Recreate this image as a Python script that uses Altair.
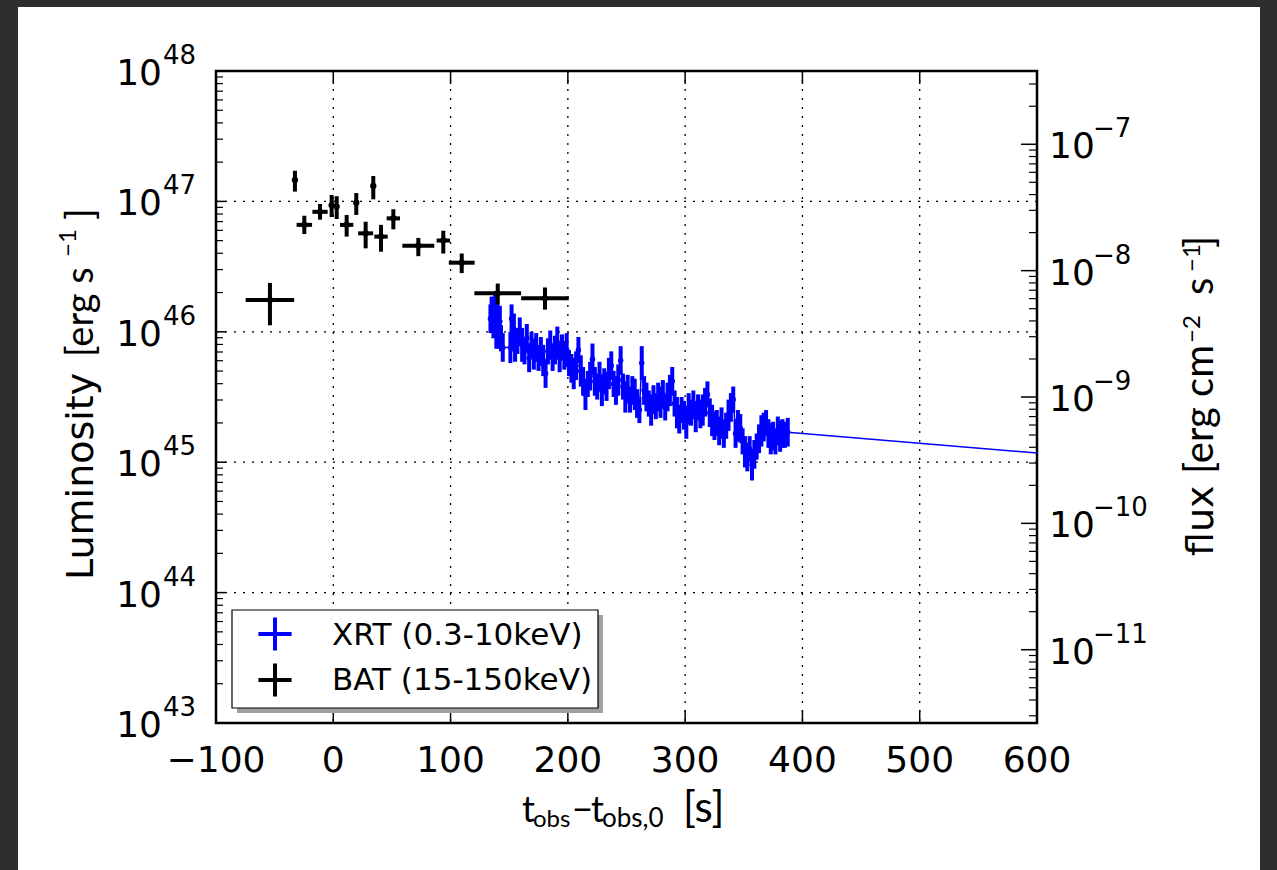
import altair as alt
import pandas as pd

# ---------------- data ----------------
# BAT (15-150 keV): time, half-width of time bin, log10 luminosity (centre, low, high)
bat_t = [-54.0, -32.7, -24.7, -11.3, -1.4, 2.9, 11.4, 19.6, 27.6, 34.1, 40.7, 51.2, 72.5, 93.8, 109.5, 140.2, 180.5]
bat_terr = [20.7, 0.0, 6.6, 6.5, 1.5, 1.5, 5.7, 0.0, 6.4, 0.0, 5.7, 5.7, 13.6, 5.7, 11.0, 19.9, 20.3]
bat_logL = [46.244, 47.164, 46.82, 46.92, 46.97, 46.96, 46.82, 46.99, 46.755, 47.118, 46.73, 46.87, 46.66, 46.70, 46.53, 46.295, 46.257]
bat_logL_lo = [46.05, 47.075, 46.75, 46.86, 46.88, 46.865, 46.73, 46.896, 46.64, 47.016, 46.614, 46.786, 46.58, 46.60, 46.45, 46.21, 46.17]
bat_logL_hi = [46.375, 47.235, 46.89, 46.98, 47.05, 47.04, 46.896, 47.064, 46.844, 47.195, 46.82, 46.94, 46.72, 46.775, 46.60, 46.37, 46.34]

# XRT (0.3-10 keV)
xrt_t = [134, 135, 136.5, 138, 139, 140, 141, 142, 143, 144.5,
         151, 152, 153, 154, 155, 157, 159, 161, 163, 165,
         167, 169, 171, 173, 175, 177, 179, 181, 183, 185,
         187, 189, 191, 193, 195, 197, 199, 201, 203, 205,
         207, 209, 211, 213, 215, 217, 219, 221, 223, 225,
         227, 229, 231, 233, 235, 237, 239, 241, 243, 245,
         247, 249, 251, 253, 255, 257, 259, 261, 263, 265,
         267, 269, 271, 273, 275, 277, 279, 281, 283, 285,
         287, 289, 291, 293, 295, 297, 299, 301, 303, 305,
         307, 309, 311, 313, 315, 317, 319, 321, 323, 325,
         327, 329, 331, 333, 335, 337, 339, 341, 343, 345,
         347, 349, 351, 353, 355, 357, 359, 361, 363, 365,
         367, 369, 371, 373, 375, 377, 379, 381, 383, 385,
         387.5]
xrt_logL = [46.10, 46.15, 46.05, 46.20, 46.00, 46.12, 45.98, 46.08, 45.95, 45.88,
            45.88, 46.10, 45.95, 46.02, 45.88, 45.93, 46.00, 45.90, 45.85, 45.95,
            45.80, 45.90, 45.83, 45.88, 45.80, 45.85, 45.78, 45.68, 45.85, 45.90,
            45.80, 45.86, 45.92, 45.80, 45.88, 45.82, 45.86, 45.76, 45.72, 45.68,
            45.74, 45.86, 45.70, 45.62, 45.52, 45.60, 45.66, 45.79, 45.62, 45.58,
            45.66, 45.55, 45.62, 45.58, 45.68, 45.74, 45.60, 45.55, 45.63, 45.78,
            45.58, 45.50, 45.56, 45.48, 45.55, 45.52, 45.45, 45.40, 45.76, 45.55,
            45.50, 45.45, 45.40, 45.48, 45.43, 45.50, 45.46, 45.52, 45.42, 45.50,
            45.55, 45.62, 45.45, 45.38, 45.33, 45.40, 45.36, 45.30, 45.42, 45.38,
            45.44, 45.35, 45.42, 45.37, 45.40, 45.46, 45.52, 45.38, 45.32, 45.28,
            45.30, 45.24, 45.30, 45.22, 45.28, 45.36, 45.42, 45.48, 45.22, 45.28,
            45.26, 45.16, 45.08, 45.04, 45.10, 44.98, 45.06, 45.12, 45.18, 45.24,
            45.27, 45.30, 45.22, 45.18, 45.20, 45.16, 45.24, 45.20, 45.22, 45.21,
            45.23]
xrt_err = [0.11, 0.12, 0.10, 0.11, 0.13, 0.10, 0.11, 0.12, 0.10, 0.11,
           0.12, 0.11, 0.10, 0.12, 0.11, 0.10, 0.11, 0.13, 0.10, 0.11,
           0.11, 0.10, 0.12, 0.11, 0.10, 0.11, 0.12, 0.11, 0.10, 0.11,
           0.10, 0.11, 0.12, 0.11, 0.10, 0.11, 0.13, 0.10, 0.11, 0.12,
           0.11, 0.10, 0.12, 0.11, 0.12, 0.10, 0.11, 0.12, 0.11, 0.10,
           0.11, 0.12, 0.10, 0.11, 0.12, 0.11, 0.10, 0.11, 0.12, 0.11,
           0.10, 0.12, 0.11, 0.10, 0.11, 0.12, 0.11, 0.10, 0.13, 0.11,
           0.11, 0.10, 0.12, 0.11, 0.10, 0.11, 0.12, 0.11, 0.10, 0.11,
           0.12, 0.11, 0.10, 0.12, 0.11, 0.10, 0.11, 0.12, 0.11, 0.10,
           0.11, 0.12, 0.10, 0.11, 0.12, 0.11, 0.10, 0.11, 0.12, 0.11,
           0.10, 0.11, 0.12, 0.11, 0.10, 0.12, 0.11, 0.10, 0.11, 0.12,
           0.11, 0.10, 0.12, 0.11, 0.10, 0.12, 0.11, 0.10, 0.11, 0.12,
           0.11, 0.10, 0.11, 0.12, 0.11, 0.10, 0.11, 0.12, 0.11, 0.10,
           0.11]
xrt_terr = 1.5  # half-width of the XRT time bins (s)
# extension of the XRT light curve to the right edge
xrt_ext_t = [387.5, 600]
xrt_ext_logL = [45.23, 45.07]

# axis ticks / labels
x_ticks = [-100, 0, 100, 200, 300, 400, 500, 600]
x_tick_labels = ["\u2212100", "0", "100", "200", "300", "400", "500", "600"]
x_grid = [0, 100, 200, 300, 400, 500]
left_exps = [43, 44, 45, 46, 47, 48]
left_exp_labels = ["43", "44", "45", "46", "47", "48"]
y_grid_exps = [44, 45, 46, 47]
right_exps = [-11, -10, -9, -8, -7]
right_exp_labels = ["\u221211", "\u221210", "\u22129", "\u22128", "\u22127"]
FLUX_LOG_DOMAIN = [-11.58, -6.42]  # log10 flux limits of the right axis

legend_labels = ["XRT (0.3-10keV)", "BAT (15-150keV)"]
legend_colors = ["#0000ff", "#000000"]

# ---------------- tables ----------------
bat = pd.DataFrame({
    "t": bat_t,
    "t_lo": [a - b for a, b in zip(bat_t, bat_terr)],
    "t_hi": [a + b for a, b in zip(bat_t, bat_terr)],
    "L": [10 ** v for v in bat_logL],
    "L_lo": [10 ** v for v in bat_logL_lo],
    "L_hi": [10 ** v for v in bat_logL_hi],
})
xrt = pd.DataFrame({
    "t": xrt_t,
    "t_lo": [v - xrt_terr for v in xrt_t],
    "t_hi": [v + xrt_terr for v in xrt_t],
    "L": [10 ** v for v in xrt_logL],
    "L_lo": [10 ** (v - e) for v, e in zip(xrt_logL, xrt_err)],
    "L_hi": [10 ** (v + e) for v, e in zip(xrt_logL, xrt_err)],
})
xrt_ext = pd.DataFrame({"t": xrt_ext_t, "L": [10 ** v for v in xrt_ext_logL]})

left_major = pd.DataFrame({"L": [10.0 ** e for e in left_exps], "lab": left_exp_labels})
left_minor = pd.DataFrame({"L": [m * 10.0 ** e for e in left_exps[:-1] for m in range(2, 10)]})
ygrid = pd.DataFrame({"L": [10.0 ** e for e in y_grid_exps]})
right_major = pd.DataFrame({"F": [10.0 ** e for e in right_exps], "lab": right_exp_labels})
fmin, fmax = 10 ** FLUX_LOG_DOMAIN[0], 10 ** FLUX_LOG_DOMAIN[1]
rm = [m * 10.0 ** e for e in [-12] + right_exps for m in range(2, 10)]
right_minor = pd.DataFrame({"F": [v for v in rm if fmin < v < fmax]})
xt = pd.DataFrame({"t": x_ticks, "lab": x_tick_labels})
xg = pd.DataFrame({"t": x_grid})

W, H = 821, 652
xsc = alt.Scale(domain=[-100, 600], nice=False, zero=False)
ysc = alt.Scale(type="log", domain=[1e43, 1e48], nice=False)
fsc = alt.Scale(type="log", domain=[fmin, fmax], nice=False)
ONE = alt.Data(values=[{}])
BLUE = "#0000ff"
DARK = "#2e2e2f"
TITLE_FONT = "Lato"


def X(f):
    return alt.X(f, type="quantitative", scale=xsc, axis=None)


def Y(f):
    return alt.Y(f, type="quantitative", scale=ysc, axis=None)


def YF(f):
    return alt.Y(f, type="quantitative", scale=fsc, axis=None)


def txt(s, x, y, size, font, angle=0, align="left", color="black"):
    return alt.Chart(ONE).mark_text(
        text=s, fontSize=size, font=font, angle=angle, align=align,
        baseline="alphabetic", color=color
    ).encode(x=alt.value(x), y=alt.value(y))


def box(x1, x2, y1, y2, fill, stroke=None, sw=0):
    kw = dict(fill=fill, strokeWidth=sw)
    if stroke:
        kw["stroke"] = stroke
    return alt.Chart(ONE).mark_rect(**kw).encode(
        x=alt.value(x1), x2=alt.value(x2), y=alt.value(y1), y2=alt.value(y2))


layers = []
# dark page border around the white card
layers += [
    box(-216, -198, -71, 799, DARK),
    box(-216, 1061, -71, -64, DARK),
    box(1044, 1061, -71, 799, DARK),
]

# dotted grid
layers += [
    alt.Chart(xg).mark_rule(color="black", strokeWidth=1.3, strokeDash=[2, 7]).encode(
        x=X("t"), y=alt.value(0), y2=alt.value(H)),
    alt.Chart(ygrid).mark_rule(color="black", strokeWidth=1.3, strokeDash=[2, 7]).encode(
        y=Y("L"), x=alt.value(0), x2=alt.value(W)),
]

# ticks (drawn inward like matplotlib)
layers += [
    alt.Chart(xt).mark_rule(color="black", strokeWidth=1.5).encode(x=X("t"), y=alt.value(H), y2=alt.value(H - 13)),
    alt.Chart(xt).mark_rule(color="black", strokeWidth=1.5).encode(x=X("t"), y=alt.value(0), y2=alt.value(13)),
    alt.Chart(left_major).mark_rule(color="black", strokeWidth=1.5).encode(y=Y("L"), x=alt.value(0), x2=alt.value(10)),
    alt.Chart(left_minor).mark_rule(color="black", strokeWidth=1.2).encode(y=Y("L"), x=alt.value(0), x2=alt.value(7)),
    alt.Chart(right_major).mark_rule(color="black", strokeWidth=1.5).encode(y=YF("F"), x=alt.value(W), x2=alt.value(W - 16)),
    alt.Chart(right_minor).mark_rule(color="black", strokeWidth=1.2).encode(y=YF("F"), x=alt.value(W), x2=alt.value(W - 8)),
]

# XRT
layers += [
    alt.Chart(xrt).mark_line(color=BLUE, strokeWidth=1.5).encode(x=X("t"), y=Y("L")),
    alt.Chart(xrt_ext).mark_line(color=BLUE, strokeWidth=1.5).encode(x=X("t"), y=Y("L")),
    alt.Chart(xrt).mark_rule(color=BLUE, strokeWidth=4).encode(x=X("t"), y=Y("L_lo"), y2=alt.Y2("L_hi")),
    alt.Chart(xrt).mark_rule(color=BLUE, strokeWidth=3).encode(x=X("t_lo"), x2=alt.X2("t_hi"), y=Y("L")),
    alt.Chart(xrt).mark_circle(color=BLUE, size=30, opacity=1).encode(x=X("t"), y=Y("L")),
]
# BAT
layers += [
    alt.Chart(bat).mark_rule(color="black", strokeWidth=4).encode(x=X("t_lo"), x2=alt.X2("t_hi"), y=Y("L")),
    alt.Chart(bat).mark_rule(color="black", strokeWidth=4).encode(x=X("t"), y=Y("L_lo"), y2=alt.Y2("L_hi")),
    alt.Chart(bat).mark_circle(color="black", size=40, opacity=1).encode(x=X("t"), y=Y("L")),
]

# tick labels
layers += [
    alt.Chart(xt).mark_text(fontSize=36, font="DejaVu Sans", align="center",
                            baseline="alphabetic", color="black").encode(
        x=X("t"), y=alt.value(H + 49), text="lab:N"),
    alt.Chart(left_major).mark_text(text="10", fontSize=36, font="DejaVu Sans", align="right",
                                    baseline="alphabetic", dy=14, color="black").encode(y=Y("L"), x=alt.value(-54)),
    alt.Chart(left_major).mark_text(fontSize=26, font="DejaVu Sans", align="left",
                                    baseline="alphabetic", dy=-7, color="black").encode(y=Y("L"), x=alt.value(-53), text="lab:N"),
    alt.Chart(right_major).mark_text(text="10", fontSize=36, font="DejaVu Sans", align="left",
                                     baseline="alphabetic", dy=14, color="black").encode(y=YF("F"), x=alt.value(W + 12)),
    alt.Chart(right_major).mark_text(fontSize=26, font="DejaVu Sans", align="left",
                                     baseline="alphabetic", dy=-7, color="black").encode(y=YF("F"), x=alt.value(W + 56), text="lab:N"),
]

# legend
legend_df = pd.DataFrame({"lab": legend_labels, "col": legend_colors, "px": [563, 609], "ty": [574, 619]})
layers += [
    box(21, 387, 544, 642, "#a0a0a0"),
    box(16, 382, 539, 637, "white", "black", 1.2),
    alt.Chart(legend_df).mark_point(shape="M-1,0L1,0M0,-1L0,1", size=1100, filled=False,
                                    strokeWidth=4, opacity=1).encode(
        x=alt.value(59), y=alt.Y("px:Q", scale=None, axis=None),
        stroke=alt.Color("col:N", scale=None, legend=None)),
    alt.Chart(legend_df).mark_text(fontSize=31, font="DejaVu Sans", align="left",
                                   baseline="alphabetic", color="black").encode(
        x=alt.value(116), y=alt.Y("ty:Q", scale=None, axis=None), text="lab:N"),
]

# axis titles
layers += [
    txt("t", 306, 751, 36, TITLE_FONT),
    txt("obs", 317, 756, 24, TITLE_FONT),
    txt("\u2212", 356, 751, 36, TITLE_FONT),
    txt("t", 375, 751, 36, TITLE_FONT),
    txt("obs,0", 386, 756, 26, TITLE_FONT),
    txt("[s]", 467, 751, 42, TITLE_FONT),
    # left title
    txt("Luminosity", -123, 509, 38, "DejaVu Sans", angle=270),
    txt("[erg s", -123, 286, 38, TITLE_FONT, angle=270),
    txt("\u22121", -140, 186, 24, TITLE_FONT, angle=270),
    txt("]", -123, 149, 38, TITLE_FONT, angle=270),
    # right title
    txt("flux", 997, 485, 38, "DejaVu Sans", angle=270),
    txt("[erg cm", 997, 403, 40, TITLE_FONT, angle=270),
    txt("\u22122", 984, 272, 24, TITLE_FONT, angle=270),
    txt("s", 997, 224, 40, TITLE_FONT, angle=270),
    txt("\u22121", 984, 201, 24, TITLE_FONT, angle=270),
    txt("]", 997, 177, 40, TITLE_FONT, angle=270),
]

chart = alt.layer(*layers).resolve_scale(y="independent").properties(
    width=W, height=H,
    autosize=alt.AutoSizeParams(type="none"),
    padding={"left": 216, "top": 71, "right": 240, "bottom": 147},
    background="white",
).configure_view(stroke="black", strokeWidth=2.5)

chart.save("out.html", embed_options={"renderer": "svg", "actions": False})
